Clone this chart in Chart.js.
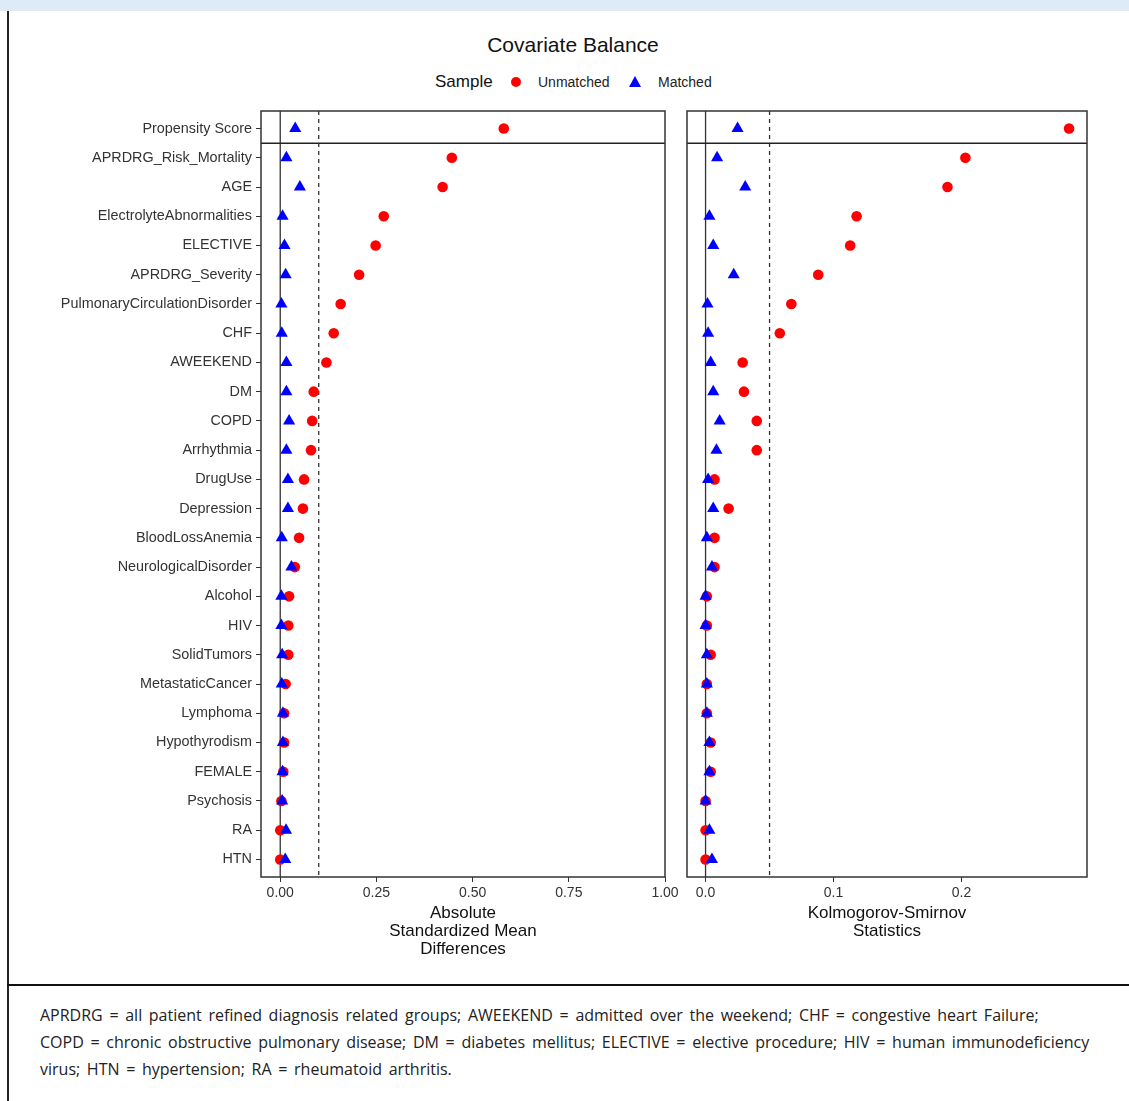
<!DOCTYPE html>
<html>
<head>
<meta charset="utf-8">
<script src="https://cdn.jsdelivr.net/npm/chart.js@4.4.1/dist/chart.umd.min.js"></script>
<style>
  html, body { margin: 0; padding: 0; background: #fff; }
  body { width: 1129px; height: 1101px; position: relative; overflow: hidden; font-family: "Liberation Sans", Arial, sans-serif; }
  .abs { position: absolute; white-space: nowrap; }
  #banner { left: 0; top: 0; width: 1129px; height: 11px; background: #deeaf6; }
  #frameL { left: 7px; top: 11px; width: 2px; height: 1090px; background: #222; }
  #sep { left: 7px; top: 984px; width: 1122px; height: 2px; background: #111; }
  #title { left: 373px; width: 400px; top: 33px; line-height: 24px; font-size: 21px; text-align: center; color: #111; }
  #legSample { left: 435px; top: 72px; line-height: 20px; font-size: 17px; color: #111; }
  #legDot { left: 511px; top: 77px; width: 10px; height: 10px; border-radius: 50%; background: #ff0000; }
  #legUn { left: 538px; top: 73px; line-height: 18px; font-size: 14px; color: #222; }
  #legTri { left: 629px; top: 76px; width: 0; height: 0; border-left: 6.5px solid transparent; border-right: 6.5px solid transparent; border-bottom: 11px solid #0000ff; }
  #legMa { left: 658px; top: 73px; line-height: 18px; font-size: 14px; color: #222; }
  #caption { left: 40px; top: 1002px; line-height: 27px; font-size: 16px; word-spacing: 2.5px; color: #222; font-family: "Open Sans", "Noto Sans", sans-serif; }
  canvas { position: absolute; top: 0; }
  #cL { left: 0; }
  #cR { left: 680px; }
</style>
</head>
<body>
<div class="abs" id="banner"></div>
<div class="abs" id="frameL"></div>
<div class="abs" id="sep"></div>
<div class="abs" id="title">Covariate Balance</div>
<div class="abs" id="legSample">Sample</div>
<div class="abs" id="legDot"></div>
<div class="abs" id="legUn">Unmatched</div>
<div class="abs" id="legTri"></div>
<div class="abs" id="legMa">Matched</div>
<div class="abs" id="caption">APRDRG = all patient refined diagnosis related groups; AWEEKEND = admitted over the weekend; CHF = congestive heart Failure;<br>COPD = chronic obstructive pulmonary disease; DM = diabetes mellitus; ELECTIVE = elective procedure; HIV = human immunodeficiency<br>virus; HTN = hypertension; RA = rheumatoid arthritis.</div>
<canvas id="cL" width="690" height="970"></canvas>
<canvas id="cR" width="414" height="970"></canvas>
<script>
const covariates = ['Propensity Score','APRDRG_Risk_Mortality','AGE','ElectrolyteAbnormalities','ELECTIVE','APRDRG_Severity','PulmonaryCirculationDisorder','CHF','AWEEKEND','DM','COPD','Arrhythmia','DrugUse','Depression','BloodLossAnemia','NeurologicalDisorder','Alcohol','HIV','SolidTumors','MetastaticCancer','Lymphoma','Hypothyrodism','FEMALE','Psychosis','RA','HTN'];

const smdUnmatched = [0.581,0.446,0.422,0.269,0.248,0.205,0.157,0.139,0.120,0.087,0.083,0.080,0.062,0.059,0.049,0.038,0.023,0.021,0.021,0.014,0.010,0.010,0.008,0.003,0.000,0.000];
const smdMatched   = [0.039,0.016,0.051,0.006,0.011,0.014,0.003,0.004,0.016,0.016,0.023,0.016,0.020,0.020,0.004,0.029,0.003,0.003,0.005,0.004,0.007,0.007,0.006,0.005,0.015,0.013];
const ksUnmatched  = [0.284,0.203,0.189,0.118,0.113,0.088,0.067,0.058,0.029,0.030,0.040,0.040,0.007,0.018,0.007,0.007,0.001,0.001,0.004,0.001,0.001,0.004,0.004,0.000,0.000,0.000];
const ksMatched    = [0.025,0.009,0.031,0.003,0.006,0.022,0.0015,0.002,0.004,0.006,0.011,0.0085,0.002,0.006,0.001,0.005,0.000,0.000,0.001,0.001,0.001,0.003,0.003,0.000,0.003,0.005];

const smdTicks = [0, 0.25, 0.5, 0.75, 1.0];
const ksTicks = [0, 0.1, 0.2];
const smdThreshold = 0.1;
const ksThreshold = 0.05;
const seriesNames = ['Unmatched', 'Matched'];

function pts(vals) { return vals.map((v, i) => ({x: v, y: i})); }

const panelPlugin = {
  id: 'panel',
  beforeDatasetsDraw(chart, args, opts) {
    const {ctx, chartArea: a, scales: {x, y}} = chart;
    ctx.save();
    ctx.strokeStyle = '#333'; ctx.lineWidth = 1.3; ctx.setLineDash([]);
    const x0 = x.getPixelForValue(0);
    ctx.beginPath(); ctx.moveTo(x0, a.top); ctx.lineTo(x0, a.bottom); ctx.stroke();
    const xt = x.getPixelForValue(opts.threshold);
    ctx.setLineDash([4, 4]); ctx.lineWidth = 1.3;
    ctx.beginPath(); ctx.moveTo(xt, a.top); ctx.lineTo(xt, a.bottom); ctx.stroke();
    ctx.setLineDash([]);
    const ys = y.getPixelForValue(0.5);
    ctx.strokeStyle = '#222'; ctx.lineWidth = 1.5;
    ctx.beginPath(); ctx.moveTo(a.left, ys); ctx.lineTo(a.right, ys); ctx.stroke();
    ctx.restore();
  },
  afterDraw(chart) {
    const {ctx, chartArea: a} = chart;
    ctx.save();
    ctx.strokeStyle = '#333'; ctx.lineWidth = 1.5;
    ctx.strokeRect(a.left, a.top, a.right - a.left, a.bottom - a.top);
    ctx.restore();
  }
};

function makeChart(id, unm, mat, xmin, xmax, ticks, decimals, threshold, showY, titleText, titlePadBottom, padding) {
  return new Chart(document.getElementById(id), {
    type: 'scatter',
    data: {
      datasets: [
        { label: seriesNames[0], data: pts(unm), pointStyle: 'circle', pointRadius: 5.3, borderWidth: 0, backgroundColor: '#ff0000', borderColor: '#ff0000', order: 2 },
        { label: seriesNames[1], data: pts(mat), pointStyle: 'triangle', pointRadius: 7, borderWidth: 0, backgroundColor: '#0000ff', borderColor: '#0000ff', order: 1 }
      ]
    },
    options: {
      responsive: false,
      animation: false,
      devicePixelRatio: 1,
      layout: { padding: padding },
      plugins: { legend: { display: false }, tooltip: { enabled: false }, panel: { threshold: threshold } },
      scales: {
        x: {
          type: 'linear', min: xmin, max: xmax,
          afterBuildTicks: s => { s.ticks = ticks.map(v => ({value: v})); },
          afterFit: s => { s.height = 82; },
          ticks: { callback: v => Number(v).toFixed(decimals), color: '#333', font: { family: 'Liberation Sans', size: 14 }, padding: 3, maxRotation: 0, autoSkip: false },
          grid: { display: true, drawOnChartArea: false, drawTicks: true, tickLength: 5, color: '#333', lineWidth: 1 },
          border: { display: false },
          title: { display: true, text: titleText, color: '#111', font: { family: 'Liberation Sans', size: 17, lineHeight: 18/17 }, padding: { top: 0, bottom: titlePadBottom } }
        },
        y: {
          type: 'linear', min: -0.6, max: covariates.length - 0.4, reverse: true,
          display: showY,
          afterBuildTicks: s => { s.ticks = covariates.map((c, i) => ({value: i})); },
          afterFit: s => { if (showY) s.width = 261; },
          ticks: { callback: v => covariates[v], color: '#333', font: { family: 'Liberation Sans', size: 14.4 }, padding: 4, autoSkip: false },
          grid: { display: true, drawOnChartArea: false, drawTicks: true, tickLength: 5, color: '#333', lineWidth: 1 },
          border: { display: false }
        }
      }
    },
    plugins: [panelPlugin]
  });
}

makeChart('cL', smdUnmatched, smdMatched, -0.05, 1.0, smdTicks, 2, smdThreshold, true,
  ['Absolute', 'Standardized Mean', 'Differences'], 1, { top: 111, bottom: 11, left: 0, right: 25 });
makeChart('cR', ksUnmatched, ksMatched, -0.0145, 0.298, ksTicks, 1, ksThreshold, false,
  ['Kolmogorov-Smirnov', 'Statistics'], 19, { top: 111, bottom: 11, left: 5, right: 5 });
</script>
</body>
</html>
